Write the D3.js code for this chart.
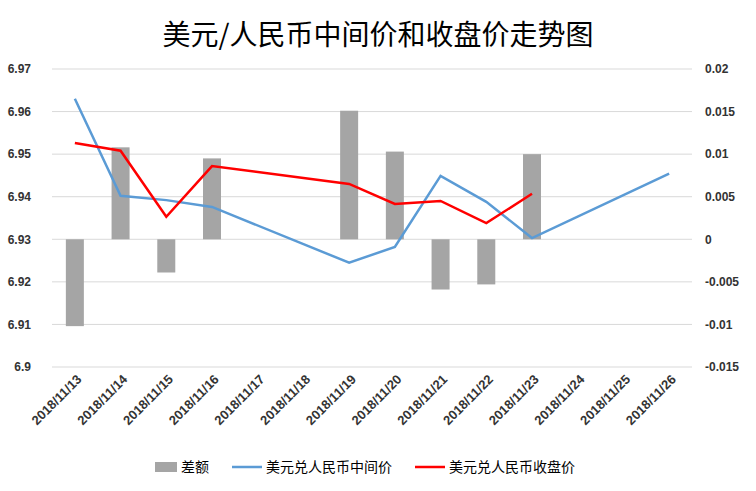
<!DOCTYPE html>
<html><head><meta charset="utf-8">
<script src="https://cdn.jsdelivr.net/npm/d3@7"></script>
<style>body{margin:0;background:#fff;font-family:"Noto Sans CJK SC",sans-serif}</style>
</head><body><svg id="c" width="756" height="491"></svg>
<script>
const categories = ['2018/11/13','2018/11/14','2018/11/15','2018/11/16','2018/11/17','2018/11/18','2018/11/19','2018/11/20','2018/11/21','2018/11/22','2018/11/23','2018/11/24','2018/11/25','2018/11/26'];
const diff = [-0.0102, 0.0108, -0.0039, 0.0095, null, null, 0.0151, 0.0103, -0.0059, -0.0053, 0.0100, null, null, null];
const midRate = [6.9630, 6.9402, 6.9392, 6.9376, null, null, 6.9245, 6.9282, 6.9449, 6.9388, 6.9303, null, null, 6.9454];
const closeRate = [6.9526, 6.9508, 6.9353, 6.9472, null, null, 6.9430, 6.9383, 6.9390, 6.9338, 6.9407, null, null, null];
const leftTicks = [6.9, 6.91, 6.92, 6.93, 6.94, 6.95, 6.96, 6.97];
const rightTicks = [-0.015, -0.01, -0.005, 0, 0.005, 0.01, 0.015, 0.02];

const svg = d3.select('#c');
const L = 52, R = 692, T = 69, B = 367;
const x = d3.scaleBand().domain(categories).range([L, R]);
const yL = d3.scaleLinear().domain([6.9, 6.97]).range([B, T]);
const yR = d3.scaleLinear().domain([-0.015, 0.02]).range([B, T]);

svg.append('text').attr('x', 378).attr('y', 45).attr('text-anchor', 'middle')
	.style('font-size', '28px').text('美元/人民币中间价和收盘价走势图');

svg.selectAll('.grid').data(leftTicks).enter().append('line')
	.attr('x1', L).attr('x2', R).attr('y1', d => yL(d)).attr('y2', d => yL(d))
	.attr('stroke', '#d9d9d9');

const axL = svg.append('g').attr('transform', `translate(${L},0)`)
	.call(d3.axisLeft(yL).tickValues(leftTicks).tickSize(0).tickFormat(d3.format('')));
const axR = svg.append('g').attr('transform', `translate(${R},0)`)
	.call(d3.axisRight(yR).tickValues(rightTicks).tickSize(0).tickFormat(d => d === 0 ? '0' : String(+d.toFixed(3))));
[axL, axR].forEach(a => {
	a.select('.domain').remove();
	a.selectAll('text').style('font-size', '12px').style('font-weight', 'bold').attr('fill', '#333');
});
axL.selectAll('text').attr('dx', -18);
axR.selectAll('text').attr('dx', 10);

const xa = svg.append('g').attr('transform', `translate(0,${B})`)
	.call(d3.axisBottom(x).tickSize(0));
xa.select('.domain').remove();
xa.selectAll('text').attr('transform', 'rotate(-45)').attr('text-anchor', 'end')
	.attr('dx', '-0.3em').attr('dy', '0.9em')
	.style('font-size', '13px').style('font-weight', 'bold').attr('fill', '#333');

const bw = 18;
svg.selectAll('.bar').data(categories.map((c, i) => [c, diff[i]]).filter(d => d[1] != null))
	.enter().append('rect')
	.attr('x', d => x(d[0]) + x.bandwidth() / 2 - bw / 2).attr('width', bw)
	.attr('y', d => yR(Math.max(0, d[1]))).attr('height', d => Math.abs(yR(d[1]) - yR(0)))
	.attr('fill', '#a5a5a5');

const line = d3.line().x(d => x(d[0]) + x.bandwidth() / 2);
const mid = categories.map((c, i) => [c, midRate[i]]).filter(d => d[1] != null);
const cls = categories.map((c, i) => [c, closeRate[i]]).filter(d => d[1] != null);
svg.append('path').attr('d', line.y(d => yL(d[1]))(mid)).attr('fill', 'none').attr('stroke', '#5b9bd5').attr('stroke-width', 2.5);
svg.append('path').attr('d', line.y(d => yL(d[1]))(cls)).attr('fill', 'none').attr('stroke', '#ff0000').attr('stroke-width', 2.5);

const lg = svg.append('g').style('font-size', '14px');
lg.append('rect').attr('x', 155).attr('y', 462).attr('width', 22).attr('height', 10).attr('fill', '#a5a5a5');
lg.append('text').attr('x', 181).attr('y', 472).text('差额');
lg.append('line').attr('x1', 232).attr('x2', 262).attr('y1', 467).attr('y2', 467).attr('stroke', '#5b9bd5').attr('stroke-width', 2.5);
lg.append('text').attr('x', 266).attr('y', 472).text('美元兑人民币中间价');
lg.append('line').attr('x1', 415).attr('x2', 445).attr('y1', 467).attr('y2', 467).attr('stroke', '#ff0000').attr('stroke-width', 2.5);
lg.append('text').attr('x', 449).attr('y', 472).text('美元兑人民币收盘价');
</script></body></html>
